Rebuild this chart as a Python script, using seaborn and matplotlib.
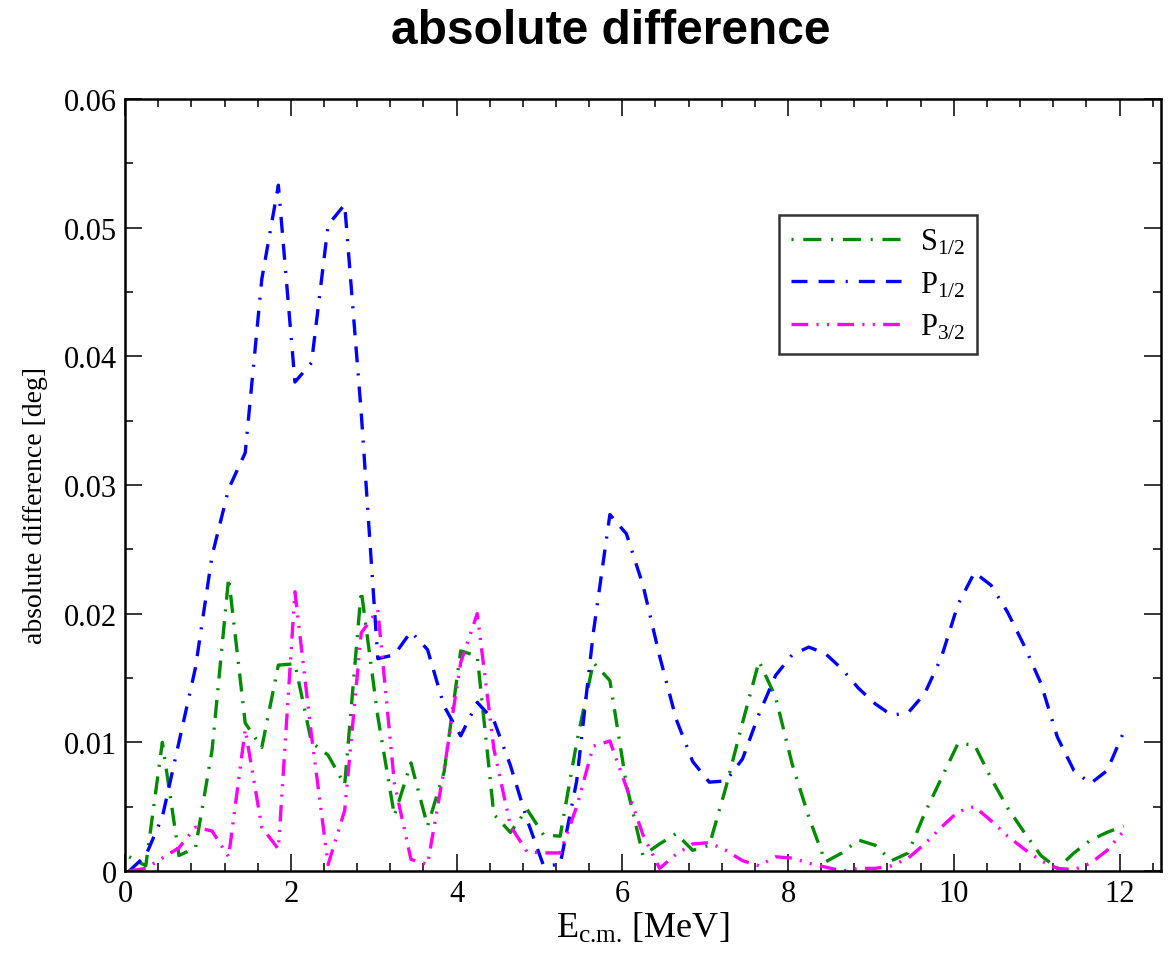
import matplotlib
matplotlib.use("Agg")
import matplotlib.pyplot as plt
import seaborn as sns
import pandas as pd
from matplotlib.ticker import MultipleLocator, FixedLocator, FuncFormatter

# ---- data -----------------------------------------------------------------
energy = [0.05, 0.25, 0.45, 0.65, 0.85, 1.05, 1.25, 1.45, 1.65, 1.85,
          2.05, 2.25, 2.45, 2.65, 2.85, 3.05, 3.25, 3.45, 3.65, 3.85,
          4.05, 4.25, 4.45, 4.65, 4.85, 5.05, 5.25, 5.45, 5.65, 5.85,
          6.05, 6.25, 6.45, 6.65, 6.85, 7.05, 7.25, 7.45, 7.65, 7.85,
          8.05, 8.25, 8.45, 8.65, 8.85, 9.05, 9.25, 9.45, 9.65, 9.85,
          10.05, 10.25, 10.45, 10.65, 10.85, 11.05, 11.25, 11.45, 11.65, 11.85,
          12.05]

s12 = [0.0011, 0.0004, 0.0100, 0.0012, 0.0018, 0.0094, 0.0228, 0.0115, 0.0096, 0.0160,
       0.0161, 0.0100, 0.0090, 0.0067, 0.0218, 0.0120, 0.0043, 0.0084, 0.0035, 0.0077,
       0.0171, 0.0167, 0.0044, 0.0030, 0.0048, 0.0028, 0.0027, 0.0100, 0.0162, 0.0148,
       0.0067, 0.0012, 0.0021, 0.0029, 0.0016, 0.0020, 0.0065, 0.0115, 0.0163, 0.0135,
       0.0083, 0.0042, 0.0007, 0.0014, 0.0024, 0.0020, 0.0008, 0.0014, 0.0045, 0.0072,
       0.0099, 0.0098, 0.0072, 0.0049, 0.0030, 0.0012, 0.0002, 0.0014, 0.0024, 0.0030,
       0.0035]

p12 = [0.0000, 0.0012, 0.0042, 0.0100, 0.0158, 0.0245, 0.0297, 0.0325, 0.0460, 0.0533,
       0.0380, 0.0395, 0.0502, 0.0518, 0.0356, 0.0165, 0.0168, 0.0186, 0.0172, 0.0128,
       0.0105, 0.0131, 0.0117, 0.0082, 0.0040, 0.0004, 0.0005, 0.0070, 0.0185, 0.0277,
       0.0262, 0.0222, 0.0167, 0.0118, 0.0085, 0.0069, 0.0070, 0.0087, 0.0122, 0.0152,
       0.0168, 0.0174, 0.0169, 0.0157, 0.0142, 0.0130, 0.0121, 0.0123, 0.0138, 0.0166,
       0.0207, 0.0232, 0.0222, 0.0201, 0.0175, 0.0146, 0.0104, 0.0078, 0.0068, 0.0078,
       0.0108]

p32 = [0.0000, 0.0002, 0.0010, 0.0018, 0.0034, 0.0031, 0.0011, 0.0110, 0.0034, 0.0017,
       0.0217, 0.0105, 0.0005, 0.0047, 0.0185, 0.0203, 0.0068, 0.0009, 0.0005, 0.0079,
       0.0162, 0.0200, 0.0095, 0.0035, 0.0015, 0.0014, 0.0014, 0.0050, 0.0097, 0.0101,
       0.0065, 0.0028, 0.0002, 0.0013, 0.0021, 0.0022, 0.0016, 0.0008, 0.0004, 0.0011,
       0.0010, 0.0006, 0.0003, 0.0000, 0.0002, 0.0002, 0.0004, 0.0010, 0.0021, 0.0034,
       0.0046, 0.0050, 0.0039, 0.0027, 0.0017, 0.0008, 0.0002, 0.0001, 0.0006, 0.0016,
       0.0031]

series_names = [r"S$_{1/2}$", r"P$_{1/2}$", r"P$_{3/2}$"]
series_values = [s12, p12, p32]
x_ticks = [0, 2, 4, 6, 8, 10, 12]
y_ticks = [0, 0.01, 0.02, 0.03, 0.04, 0.05, 0.06]

# ---- style ----------------------------------------------------------------
sns.set_theme(style="ticks")
plt.rcParams["font.family"] = ["Liberation Serif", "DejaVu Serif"]
plt.rcParams["mathtext.fontset"] = "custom"
plt.rcParams["mathtext.rm"] = "Liberation Serif"
plt.rcParams["mathtext.it"] = "Liberation Serif:italic"
plt.rcParams["mathtext.bf"] = "Liberation Serif:bold"
plt.rcParams["lines.scale_dashes"] = False
plt.rcParams["text.color"] = "black"
plt.rcParams["axes.labelcolor"] = "black"
plt.rcParams["xtick.color"] = "black"
plt.rcParams["ytick.color"] = "black"

colors = {series_names[0]: "#008b00", series_names[1]: "#0000ff", series_names[2]: "#ff00ff"}
dashes = {series_names[0]: (1.5, 7, 13, 7),
          series_names[1]: (11.5, 8, 11.5, 8, 1.5, 8),
          series_names[2]: (12, 6, 1.5, 6, 1.5, 6)}

rows = []
for name, vals in zip(series_names, series_values):
    for e, v in zip(energy, vals):
        rows.append({"E": e, "diff": v, "wave": name})
df = pd.DataFrame(rows)

fig = plt.figure(figsize=(11.72, 9.54), dpi=100)
ax = fig.add_axes([0.1067, 0.0860, 0.8839, 0.8092])

sns.lineplot(data=df, x="E", y="diff", hue="wave", style="wave",
             palette=colors, dashes=dashes, linewidth=2.4,
             estimator=None, sort=False, ax=ax, legend=True)

ax.set_xlim(0, 12.5)
ax.set_ylim(0, 0.06)
ax.xaxis.set_major_locator(FixedLocator(x_ticks))
ax.xaxis.set_minor_locator(MultipleLocator(0.4))
ax.yaxis.set_major_locator(FixedLocator(y_ticks))
ax.yaxis.set_minor_locator(MultipleLocator(0.005))
ax.yaxis.set_major_formatter(FuncFormatter(lambda v, p: "0" if abs(v) < 1e-12 else f"{v:.2f}"))
ax.xaxis.set_major_formatter(FuncFormatter(lambda v, p: f"{v:.0f}"))

ax.tick_params(which="both", direction="in", top=True, right=True, color="black",
               labelcolor="black")
ax.tick_params(which="major", length=12.5, width=1.1, labelsize=22, pad=6)
ax.tick_params(which="minor", length=6, width=1.1)
for sp in ax.spines.values():
    sp.set_linewidth(1.8)
    sp.set_color("black")

ax.set_xlabel(r"E$_{\text{c.m.}}$ [MeV]", fontsize=26, labelpad=2, color="black")
ax.set_ylabel("absolute difference [deg]", fontsize=20, color="black")
ax.yaxis.set_label_coords(-0.074, 0.475)

fig.text(611 / 1172, 1 - 31 / 954, "absolute difference", ha="center", va="center",
         fontsize=34.5, fontweight="bold", color="black",
         family=["Liberation Sans", "DejaVu Sans"])

handles, labels = ax.get_legend_handles_labels()
leg = ax.legend(handles, labels, loc="upper left",
                bbox_to_anchor=(779 / 1172, 1 - 216 / 954), bbox_transform=fig.transFigure,
                fontsize=22, handlelength=3.6, handletextpad=0.6, labelspacing=0.42,
                borderpad=0.4, fancybox=False, frameon=True, borderaxespad=0)
leg.get_frame().set_edgecolor("black")
leg.get_frame().set_linewidth(1.8)
for t in leg.get_texts():
    t.set_color("black")
for line in leg.get_lines():
    line.set_linewidth(2.4)

fig.savefig("out.png", dpi=100)
